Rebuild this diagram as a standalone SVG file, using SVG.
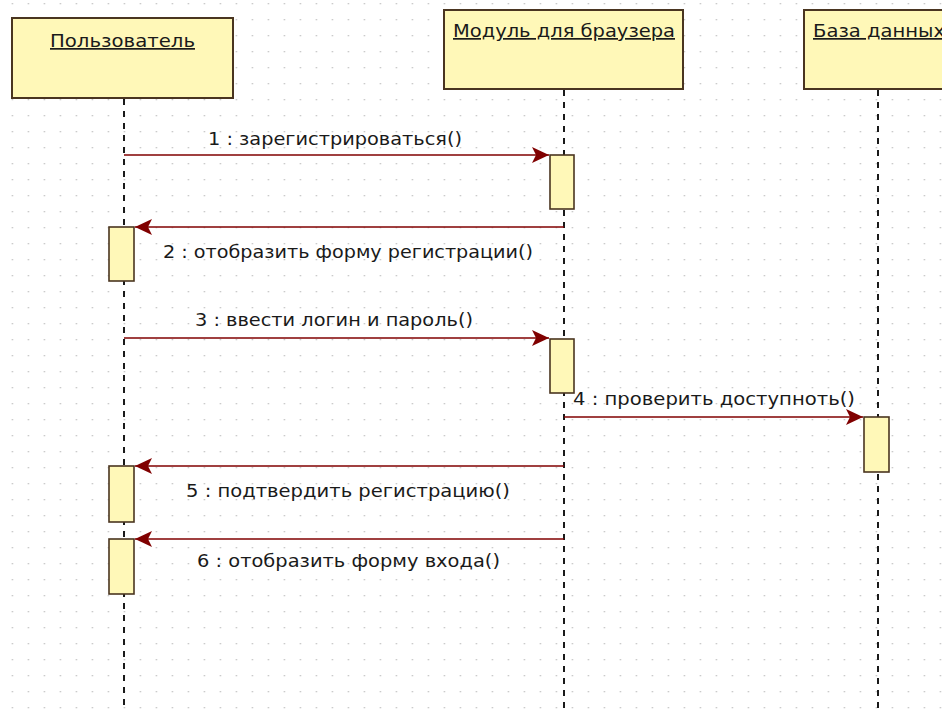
<svg xmlns="http://www.w3.org/2000/svg" width="942" height="710" viewBox="0 0 942 710">
<style>
.obj{fill:#fff8b8;stroke:#4a3520;stroke-width:2}
.act{fill:#fff8b8;stroke:#4a3520;stroke-width:1.6}
.life{stroke:#1a1a1a;stroke-width:2;stroke-dasharray:6 6;fill:none}
.msg{stroke:#800000;stroke-width:1.6;fill:none;marker-end:url(#arr)}
.t{font-family:"DejaVu Sans","Liberation Sans",sans-serif;font-size:17px;fill:#1a1a1a}
.h{text-decoration:underline}
</style>
<defs>
<pattern id="grid" x="3.7" y="3" width="16" height="16" patternUnits="userSpaceOnUse">
<rect x="8" y="0" width="1.3" height="1.3" fill="#bdbdbd"/>
</pattern>
<marker id="arr" markerUnits="userSpaceOnUse" markerWidth="20" markerHeight="20" viewBox="-19 -10 20 20" refX="0" refY="0" orient="auto">
<path d="M-17,-8 L0,0 L-17,8 L-13,0 z" fill="#800000"/>
</marker>
</defs>
<rect width="942" height="710" fill="#ffffff"/>
<rect width="942" height="710" fill="url(#grid)"/>

<g id="lifelines">
<line class="life" x1="124" y1="99" x2="124" y2="710"/>
<line class="life" x1="564" y1="90" x2="564" y2="710"/>
<line class="life" x1="878" y1="90" x2="878" y2="710"/>
</g>

<g id="user">
<rect class="obj" x="12" y="18" width="221" height="80"/>
<text class="t h" x="50" y="47" textLength="145" lengthAdjust="spacingAndGlyphs">Пользователь</text>
</g>
<g id="module">
<rect class="obj" x="444" y="10" width="239" height="79"/>
<text class="t h" x="453" y="37" textLength="222" lengthAdjust="spacingAndGlyphs">Модуль для браузера</text>
</g>
<g id="db">
<rect class="obj" x="804" y="10" width="170" height="79"/>
<text class="t h" x="813" y="37" textLength="132" lengthAdjust="spacingAndGlyphs">База данных</text>
</g>

<g id="activations">
<rect id="act1" class="act" x="550" y="155" width="24" height="54"/>
<rect id="act2" class="act" x="109" y="227" width="25" height="54"/>
<rect id="act3" class="act" x="550" y="339" width="24" height="54"/>
<rect id="act4" class="act" x="864" y="417" width="25" height="55"/>
<rect id="act5" class="act" x="109" y="466" width="25" height="56"/>
<rect id="act6" class="act" x="109" y="539" width="25" height="55"/>
</g>

<g id="connectors">
<line class="msg" x1="124" y1="155" x2="549" y2="155"/>
<line class="msg" x1="564" y1="227" x2="135" y2="227"/>
<line class="msg" x1="124" y1="338" x2="549" y2="338"/>
<line class="msg" x1="564" y1="417" x2="863" y2="417"/>
<line class="msg" x1="564" y1="466" x2="135" y2="466"/>
<line class="msg" x1="564" y1="539" x2="135" y2="539"/>
</g>

<g id="labels">
<text class="t" x="208" y="145" textLength="254" lengthAdjust="spacingAndGlyphs">1 : зарегистрироваться()</text>
<text class="t" x="163" y="258" textLength="370" lengthAdjust="spacingAndGlyphs">2 : отобразить форму регистрации()</text>
<text class="t" x="195" y="326" textLength="278" lengthAdjust="spacingAndGlyphs">3 : ввести логин и пароль()</text>
<text class="t" x="573" y="405" textLength="282" lengthAdjust="spacingAndGlyphs">4 : проверить доступноть()</text>
<text class="t" x="186" y="497" textLength="324" lengthAdjust="spacingAndGlyphs">5 : подтвердить регистрацию()</text>
<text class="t" x="197" y="567" textLength="303" lengthAdjust="spacingAndGlyphs">6 : отобразить форму входа()</text>
</g>
</svg>
